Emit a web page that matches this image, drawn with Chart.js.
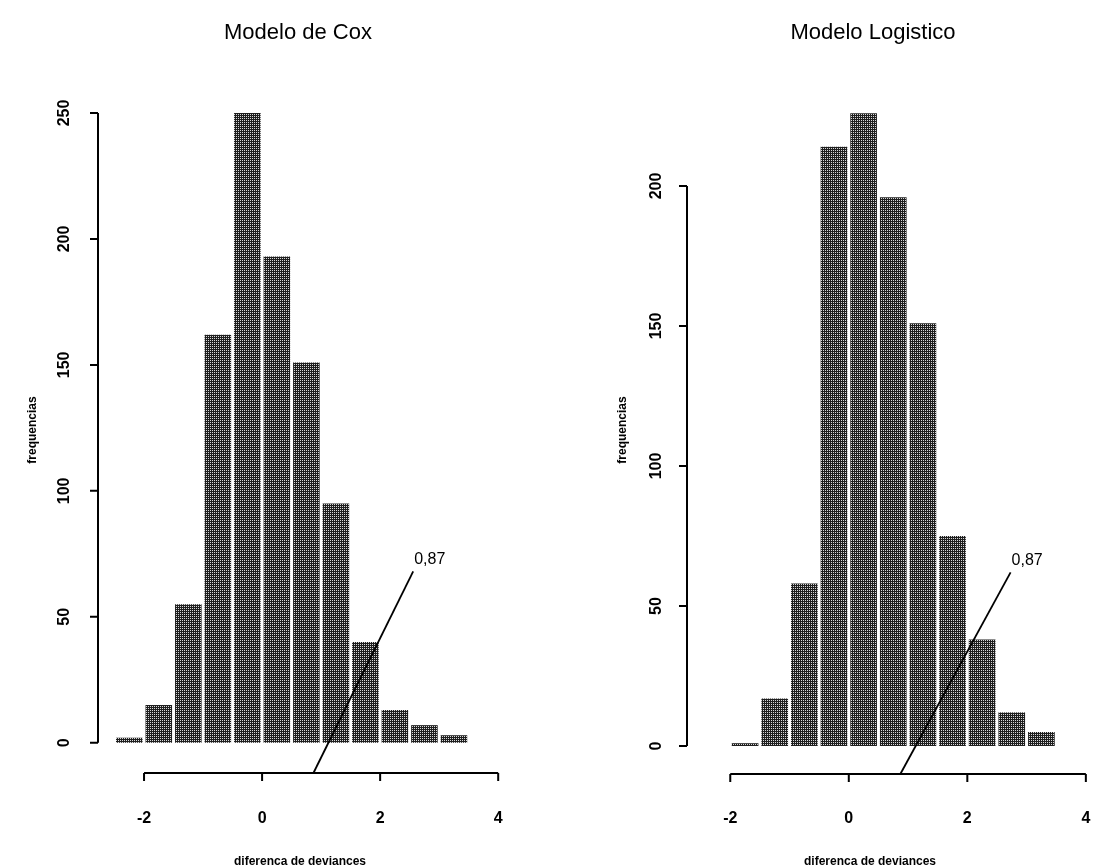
<!DOCTYPE html>
<html>
<head>
<meta charset="utf-8">
<script src="https://cdn.jsdelivr.net/npm/chart.js@4/dist/chart.umd.min.js"></script>
<style>
  body { margin: 0; background: #fff; }
  #wrap { position: relative; width: 1094px; height: 867px; }
  .box { position: absolute; top: 0; width: 547px; height: 867px; }
</style>
</head>
<body>
<div id="wrap">
  <div class="box" style="left:0"><canvas id="coxChart"></canvas></div>
  <div class="box" style="left:547px"><canvas id="logChart"></canvas></div>
</div>
<script>
// bin mid points (bins of width 0.5) and counts
const coxMids = [-2.25, -1.75, -1.25, -0.75, -0.25, 0.25, 0.75, 1.25, 1.75, 2.25, 2.75, 3.25];
const coxCounts = [2, 15, 55, 162, 250, 193, 151, 95, 40, 13, 7, 3];

const logMids = [-1.75, -1.25, -0.75, -0.25, 0.25, 0.75, 1.25, 1.75, 2.25, 2.75, 3.25];
const logCounts = [1, 17, 58, 214, 226, 196, 151, 75, 38, 12, 5];

const xTickValues = [-2, 0, 2, 4];
const coxYTicks = [0, 50, 100, 150, 200, 250];
const logYTicks = [0, 50, 100, 150, 200];

// pointer line to the observed value 0,87
const coxMarkX = [0.87, 2.56];
const coxMarkY = [-12, 68];
const logMarkX = [0.87, 2.73];
const logMarkY = [-10, 62];
const markLabel = '0,87';

function makePattern() {
    var c = document.createElement('canvas');
    c.width = 2; c.height = 2;
    var g = c.getContext('2d');
    g.fillStyle = '#1e1e1e';
    g.fillRect(0, 0, 2, 2);
    g.fillStyle = '#d8d8d8';
    g.fillRect(0, 0, 1, 1);
    return g.createPattern(c, 'repeat');
}

// R style axes: detached from the plot region, drawn from the chart scales
const rAxes = {
    id: 'rAxes',
    afterDraw(chart, args, opts) {
        const ctx = chart.ctx;
        const xs = chart.scales.x, ys = chart.scales.y;
        const area = chart.chartArea;
        ctx.save();
        ctx.strokeStyle = '#000';
        ctx.fillStyle = '#000';
        ctx.lineWidth = 2;

        // x axis
        const xb = area.bottom;
        ctx.beginPath();
        ctx.moveTo(xs.getPixelForValue(xTickValues[0]), xb);
        ctx.lineTo(xs.getPixelForValue(xTickValues[xTickValues.length - 1]), xb);
        xTickValues.forEach(v => {
            const px = xs.getPixelForValue(v);
            ctx.moveTo(px, xb);
            ctx.lineTo(px, xb + 8);
        });
        ctx.stroke();
        ctx.font = 'bold 16px "Liberation Sans", Arial, sans-serif';
        ctx.textAlign = 'center';
        ctx.textBaseline = 'middle';
        xTickValues.forEach(v => {
            ctx.fillText(String(v), xs.getPixelForValue(v), 819);
        });

        // y axis
        const yl = area.left;
        const yt = opts.yTicks;
        ctx.beginPath();
        ctx.moveTo(yl, ys.getPixelForValue(yt[0]));
        ctx.lineTo(yl, ys.getPixelForValue(yt[yt.length - 1]));
        yt.forEach(v => {
            const py = ys.getPixelForValue(v);
            ctx.moveTo(yl, py);
            ctx.lineTo(yl - 8, py);
        });
        ctx.stroke();
        yt.forEach(v => {
            ctx.save();
            ctx.translate(yl - opts.yLabelGap, ys.getPixelForValue(v));
            ctx.rotate(-Math.PI / 2);
            ctx.fillText(String(v), 0, 0);
            ctx.restore();
        });

        // axis titles
        ctx.font = 'bold 12px "Liberation Sans", Arial, sans-serif';
        ctx.fillText('diferenca de deviances', opts.xTitleX, 862);
        ctx.save();
        ctx.translate(opts.yTitleX, 430);
        ctx.rotate(-Math.PI / 2);
        ctx.fillText('frequencias', 0, 0);
        ctx.restore();

        // main title
        ctx.font = '22px "Liberation Sans", Arial, sans-serif';
        ctx.fillText(opts.title, opts.titleX, 33);

        // value label at the end of the pointer line
        const meta = chart.getDatasetMeta(1);
        const last = meta.data[meta.data.length - 1];
        ctx.font = '16px "Liberation Sans", Arial, sans-serif';
        ctx.textAlign = 'left';
        ctx.fillText(markLabel, last.x + 1, last.y - 12);
        ctx.restore();
    }
};

function drawHist(id, mids, counts, markX, markY, cfg) {
    const ctx = document.getElementById(id);
    const bars = mids.map((m, i) => ({ x: m, y: counts[i] }));
    const mark = markX.map((m, i) => ({ x: m, y: markY[i] }));
    return new Chart(ctx, {
        type: 'bar',
        data: {
            datasets: [
                {
                    data: bars,
                    backgroundColor: makePattern(),
                    borderWidth: 0,
                    barPercentage: 0.9,
                    categoryPercentage: 1.0,
                    order: 2
                },
                {
                    type: 'line',
                    data: mark,
                    borderColor: '#000',
                    borderWidth: 1.8,
                    pointRadius: 0,
                    fill: false,
                    clip: false,
                    order: 1
                }
            ]
        },
        options: {
            responsive: true,
            maintainAspectRatio: false,
            animation: false,
            layout: { padding: cfg.padding },
            plugins: {
                legend: { display: false },
                tooltip: { enabled: false },
                rAxes: cfg.axes
            },
            scales: {
                x: { type: 'linear', min: cfg.xMin, max: cfg.xMax, offset: false, grid: { offset: false }, display: false },
                y: { type: 'linear', min: cfg.yMin, max: cfg.yMax, display: false }
            }
        },
        plugins: [rAxes]
    });
}

drawHist('coxChart', coxMids, coxCounts, coxMarkX, coxMarkY, {
    padding: { left: 98, right: 37, top: 113, bottom: 94 },
    xMin: -2.78, xMax: 4.2, yMin: -12, yMax: 250,
    axes: { yTicks: coxYTicks, yLabelGap: 33, title: 'Modelo de Cox', titleX: 298, xTitleX: 300, yTitleX: 33 }
});

drawHist('logChart', logMids, logCounts, logMarkX, logMarkY, {
    padding: { left: 140, right: 4, top: 102, bottom: 93 },
    xMin: -2.73, xMax: 4.07, yMin: -10, yMax: 230,
    axes: { yTicks: logYTicks, yLabelGap: 30, title: 'Modelo Logistico', titleX: 326, xTitleX: 323, yTitleX: 76 }
});
</script>
</body>
</html>
